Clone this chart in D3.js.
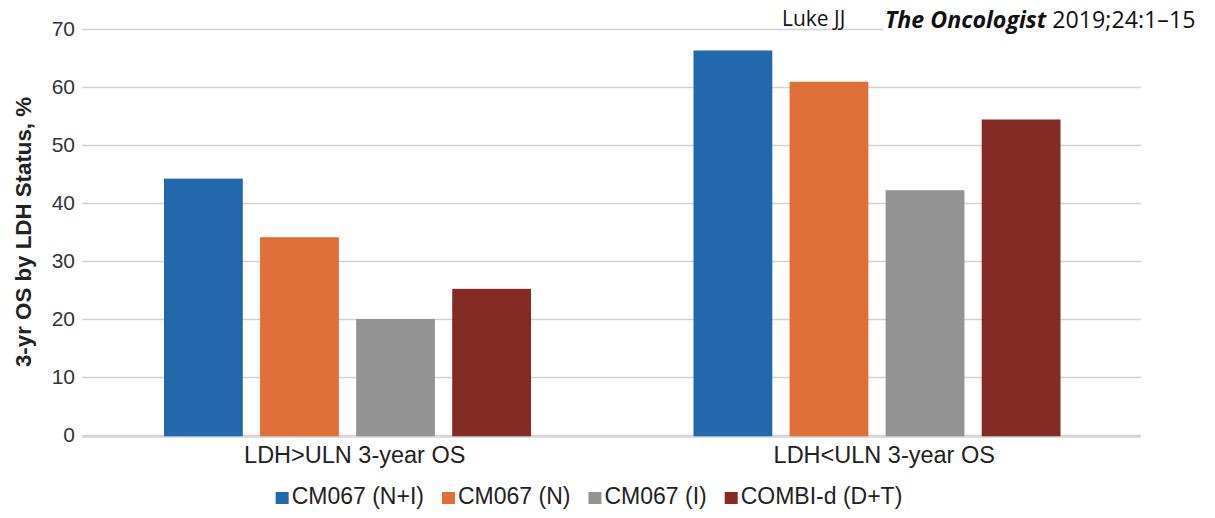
<!DOCTYPE html>
<html>
<head>
<meta charset="UTF-8">
<title>3-yr OS by LDH Status</title>
<script src="https://d3js.org/d3.v7.min.js"></script>
<style>
  body { margin: 0; background: #fff; }
  svg text { font-family: "Liberation Sans", Arial, sans-serif; }
</style>
</head>
<body>
<svg id="mainsvg" width="1215" height="518"></svg>
<script>
// data
const groups = ['LDH>ULN 3-year OS', 'LDH<ULN 3-year OS'];
const seriesNames = ['CM067 (N+I)', 'CM067 (N)', 'CM067 (I)', 'COMBI-d (D+T)'];
const seriesColors = ['#2268ad', '#df6f38', '#939393', '#842b26'];
const valuesHigh = [44.2, 34.1, 20.0, 25.2];  // LDH>ULN
const valuesLow = [66.3, 60.9, 42.2, 54.4];   // LDH<ULN
const yTicks = [0, 10, 20, 30, 40, 50, 60, 70];

const svg = d3.select('#mainsvg');
const margin = {top: 29, right: 74, bottom: 83, left: 82};
const width = +svg.attr('width');
const height = +svg.attr('height');
const innerWidth = width - margin.left - margin.right;
const innerHeight = height - margin.top - margin.bottom;

const table = groups.map((g, i) => ({
    group: g,
    values: i === 0 ? valuesHigh : valuesLow
}));

const xScale = d3.scaleBand().domain(groups).range([0, innerWidth]);
const xInner = d3.scaleBand().domain(seriesNames)
    .range([82, xScale.bandwidth() - 80.5])
    .paddingInner(0.18).paddingOuter(0);
const yScale = d3.scaleLinear().domain([0, 70]).range([innerHeight, 0]);

const g = svg.append('g').attr('transform', `translate(${margin.left}, ${margin.top})`);

// gridlines + y labels
const yAxis = d3.axisLeft(yScale).tickValues(yTicks).tickSize(-innerWidth).tickPadding(8);
const yAxisGroup = g.append('g').call(yAxis).attr('font-size', null).attr('font-family', null);
yAxisGroup.select('.domain').remove();
yAxisGroup.selectAll('.tick line').attr('stroke', '#d2d2d2').attr('stroke-width', 1.3);
yAxisGroup.selectAll('.tick text')
    .attr('fill', '#333').style('font-size', '21px').attr('x', -7);

// bars
const bandG = g.selectAll('.band').data(table).join('g')
    .attr('class', 'band')
    .attr('transform', d => `translate(${xScale(d.group)}, 0)`);
bandG.selectAll('rect')
    .data(d => d.values.map((v, i) => ({key: seriesNames[i], value: v, color: seriesColors[i]})))
    .join('rect')
    .attr('x', d => xInner(d.key))
    .attr('width', xInner.bandwidth())
    .attr('y', d => yScale(d.value))
    .attr('height', d => innerHeight - yScale(d.value) + 2)
    .attr('fill', d => d.color);

// baseline
g.append('line')
    .attr('x1', 0).attr('x2', innerWidth)
    .attr('y1', innerHeight + 2).attr('y2', innerHeight + 2)
    .attr('stroke', '#d2d2d2').attr('stroke-width', 1.3);

// x labels
const xAxis = d3.axisBottom(xScale).tickSize(0).tickPadding(11);
const xAxisGroup = g.append('g').attr('transform', `translate(0, ${innerHeight})`).call(xAxis)
    .attr('font-size', null).attr('font-family', null);
xAxisGroup.select('.domain').remove();
xAxisGroup.selectAll('.tick text').attr('fill', '#222').attr('dx', 8).style('font-size', '23.5px');

// y axis title
svg.append('text')
    .attr('transform', `translate(31, 232) rotate(-90)`)
    .attr('text-anchor', 'middle')
    .attr('fill', '#222')
    .style('font-size', '22.3px')
    .style('font-weight', 'bold')
    .text('3-yr OS by LDH Status, %');

// legend
const legend = svg.append('g');
let lx = 0;
seriesNames.forEach((name, i) => {
    const it = legend.append('g');
    it.append('rect').attr('x', 0).attr('y', -12).attr('width', 13).attr('height', 12)
        .attr('fill', seriesColors[i]);
    const t = it.append('text').attr('x', 16).attr('y', 0)
        .attr('fill', '#222').style('font-size', '23px').text(name);
    const w = 16 + t.node().getComputedTextLength();
    it.attr('transform', `translate(${lx}, 0)`);
    lx += w + 18;
});
const totalW = lx - 18;
legend.attr('transform', `translate(${589 - totalW / 2}, 504)`);

// citation
const cite = svg.append('g');
cite.append('rect').attr('x', 883).attr('y', 8).attr('width', 332).attr('height', 34).attr('fill', '#fff');
cite.append('text').attr('x', 782).attr('y', 26)
    .style('font-family', '"Open Sans", "DejaVu Sans", sans-serif')
    .style('font-size', '21px').attr('fill', '#111').text('Luke JJ');
const ct = cite.append('text').attr('x', 885).attr('y', 28)
    .style('font-family', '"Open Sans", "DejaVu Sans", sans-serif')
    .style('font-size', '23.2px').attr('fill', '#111');
ct.append('tspan').style('font-weight', 'bold').style('font-style', 'italic').text('The Oncologist');
ct.append('tspan').text(' 2019;24:1\u201315');
</script>
</body>
</html>
